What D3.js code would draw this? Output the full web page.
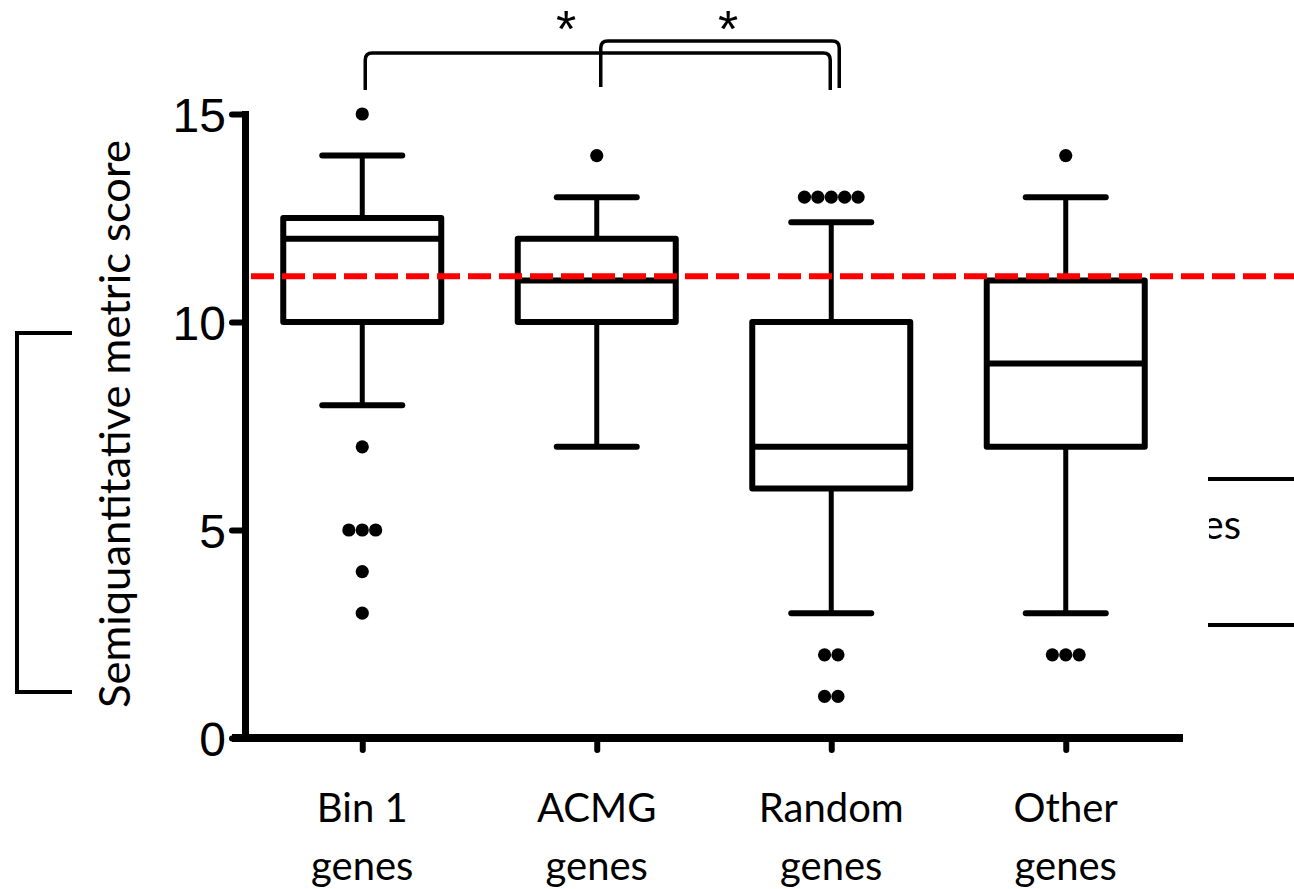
<!DOCTYPE html>
<html>
<head>
<meta charset="utf-8">
<script src="https://cdn.jsdelivr.net/npm/d3@7"></script>
<style>
  body { margin: 0; background: #fff; }
  svg { display: block; }
</style>
</head>
<body>
<div id="chart"></div>
<script>
// data
var categories = ["Bin 1 genes", "ACMG genes", "Random genes", "Other genes"];
var q1 = [10, 10, 6, 7];
var medians = [12, 11, 7, 9];
var q3 = [12.5, 12, 10, 11];
var whiskerLow = [8, 7, 3, 3];
var whiskerHigh = [14, 13, 12.4, 13];
var outliers = [
    [15, 7, 5, 5, 5, 4, 3],
    [14],
    [13, 13, 13, 13, 13, 2, 2, 1, 1],
    [14, 2, 2, 2]
];
var yTicks = [0, 5, 10, 15];
var threshold = 11.1;
var comparisons = [
    {from: "Bin 1 genes", to: "Random genes", label: "*"},
    {from: "ACMG genes", to: "Random genes", label: "*"}
];
var yLabel = "Semiquantitative metric score";

//window layout
var svgWidth = 1294;
var svgHeight = 889;

var svg = d3.select('#chart')
        .append('svg')
        .attr('width', svgWidth)
        .attr('height', svgHeight);

//scales
var x = d3.scalePoint()
        .domain(categories)
        .range([245, 1183])
        .padding(0.5);
var y = d3.scaleLinear()
        .domain([0, 15])
        .range([738, 114]);

var boxHalf = 79;
var capHalf = 40;
var dotR = 6.6;
var dotGap = 13.4;

//cropped pieces of the neighbouring panels
svg.append('path')
        .attr('d', 'M72,333H17V692H72')
        .attr('fill', 'none')
        .attr('stroke', '#000')
        .attr('stroke-width', 4);
svg.append('line')
        .attr('x1', 1208).attr('x2', 1294)
        .attr('y1', 479).attr('y2', 479)
        .attr('stroke', '#000').attr('stroke-width', 4);
svg.append('line')
        .attr('x1', 1208).attr('x2', 1294)
        .attr('y1', 625).attr('y2', 625)
        .attr('stroke', '#000').attr('stroke-width', 4);
svg.append('clipPath').attr('id', 'cut')
        .append('rect').attr('x', 1209).attr('y', 490).attr('width', 90).attr('height', 70);
svg.append('text')
        .attr('clip-path', 'url(#cut)')
        .attr('x', 1241).attr('y', 539)
        .attr('text-anchor', 'end')
        .style('font-family', 'Lato')
        .style('font-size', '40px')
        .text('genes');

//axes
var leftAxis = d3.axisLeft(y)
        .tickValues(yTicks)
        .tickSize(13)
        .tickSizeOuter(0)
        .tickPadding(6);
var bottomAxis = d3.axisBottom(x)
        .tickSize(12)
        .tickSizeOuter(0)
        .tickFormat('');

var gx = svg.append('g')
        .attr('transform', 'translate(0,' + y(0) + ')')
        .call(bottomAxis);
gx.select('.domain').attr('stroke-width', 8).attr('d', 'M232,0H1183');
gx.selectAll('.tick line').attr('stroke-width', 6).attr('stroke-linecap', 'round');

var gy = svg.append('g')
        .attr('transform', 'translate(245,0)')
        .call(leftAxis);
gy.select('.domain').attr('stroke-width', 7).attr('stroke-linecap', 'square');
gy.selectAll('.tick line').attr('stroke-width', 6).attr('stroke-linecap', 'round');
gy.selectAll('.tick text')
        .attr('dy', '0.36em')
        .style('font-family', 'Liberation Sans')
        .style('font-size', '48px')
        .attr('fill', '#000');

//category labels on two lines
var catLabels = svg.append('g').selectAll('text')
        .data(categories)
        .enter()
        .append('text')
        .attr('text-anchor', 'middle')
        .style('font-family', 'Lato')
        .style('font-size', '40px')
        .attr('fill', '#000');
catLabels.append('tspan')
        .attr('x', d => x(d))
        .attr('y', 822)
        .text(d => d.slice(0, d.lastIndexOf(' ')));
catLabels.append('tspan')
        .attr('x', d => x(d))
        .attr('y', 880)
        .text(d => d.slice(d.lastIndexOf(' ') + 1));

//y label
svg.append('text')
        .attr('transform', 'translate(130,424) rotate(-90)')
        .attr('text-anchor', 'middle')
        .attr('textLength', 568)
        .attr('lengthAdjust', 'spacingAndGlyphs')
        .style('font-family', 'Lato')
        .style('font-size', '42px')
        .text(yLabel);

//boxes
var boxes = svg.append('g').selectAll('g')
        .data(categories)
        .enter()
        .append('g');

boxes.append('line')
        .attr('x1', d => x(d)).attr('x2', d => x(d))
        .attr('y1', (d, i) => y(whiskerHigh[i]))
        .attr('y2', (d, i) => y(q3[i]))
        .attr('stroke', '#000').attr('stroke-width', 5);
boxes.append('line')
        .attr('x1', d => x(d)).attr('x2', d => x(d))
        .attr('y1', (d, i) => y(q1[i]))
        .attr('y2', (d, i) => y(whiskerLow[i]))
        .attr('stroke', '#000').attr('stroke-width', 5);
[whiskerHigh, whiskerLow].forEach(function(arr) {
    boxes.append('line')
        .attr('x1', d => x(d) - capHalf).attr('x2', d => x(d) + capHalf)
        .attr('y1', (d, i) => y(arr[i])).attr('y2', (d, i) => y(arr[i]))
        .attr('stroke', '#000').attr('stroke-width', 6)
        .attr('stroke-linecap', 'round');
});
boxes.append('rect')
        .attr('x', d => x(d) - boxHalf)
        .attr('width', boxHalf * 2)
        .attr('y', (d, i) => y(q3[i]))
        .attr('height', (d, i) => y(q1[i]) - y(q3[i]))
        .attr('fill', 'none')
        .attr('stroke', '#000').attr('stroke-width', 6)
        .attr('stroke-linejoin', 'round');
boxes.append('line')
        .attr('x1', d => x(d) - boxHalf).attr('x2', d => x(d) + boxHalf)
        .attr('y1', (d, i) => y(medians[i])).attr('y2', (d, i) => y(medians[i]))
        .attr('stroke', '#000').attr('stroke-width', 6);

//outlier dots, equal values side by side
var dots = [];
categories.forEach(function(c, i) {
    var groups = d3.group(outliers[i], v => v);
    groups.forEach(function(vals, v) {
        vals.forEach(function(val, k) {
            dots.push({cat: c, value: val, offset: (k - (vals.length - 1) / 2) * dotGap});
        });
    });
});
svg.append('g').selectAll('circle')
        .data(dots)
        .enter()
        .append('circle')
        .attr('cx', d => x(d.cat) + d.offset)
        .attr('cy', d => y(d.value))
        .attr('r', dotR)
        .attr('fill', '#000');

//threshold line
svg.append('line')
        .attr('x1', 251).attr('x2', svgWidth)
        .attr('y1', y(threshold)).attr('y2', y(threshold))
        .attr('stroke', '#ff0000')
        .attr('stroke-width', 6)
        .attr('stroke-dasharray', '23,8');

//significance brackets
var bracketLayout = [
    {dl: 3, dr: -1, top: 53, bl: 90, br: 90, star: 566},
    {dl: 4, dr: 8, top: 41, bl: 87, br: 88, star: 728}
];
var r = 7;
comparisons.forEach(function(c, i) {
    var b = bracketLayout[i];
    var x1 = x(c.from) + b.dl;
    var x2 = x(c.to) + b.dr;
    svg.append('path')
        .attr('d', 'M' + x1 + ',' + b.bl + 'V' + (b.top + r) + 'Q' + x1 + ',' + b.top + ' ' + (x1 + r) + ',' + b.top +
            'H' + (x2 - r) + 'Q' + x2 + ',' + b.top + ' ' + x2 + ',' + (b.top + r) + 'V' + b.br)
        .attr('fill', 'none')
        .attr('stroke', '#000')
        .attr('stroke-width', 3.5);
    svg.append('text')
        .attr('x', b.star)
        .attr('y', 47)
        .attr('text-anchor', 'middle')
        .style('font-family', 'Liberation Sans')
        .style('font-size', '52px')
        .text(c.label);
});
</script>
</body>
</html>
